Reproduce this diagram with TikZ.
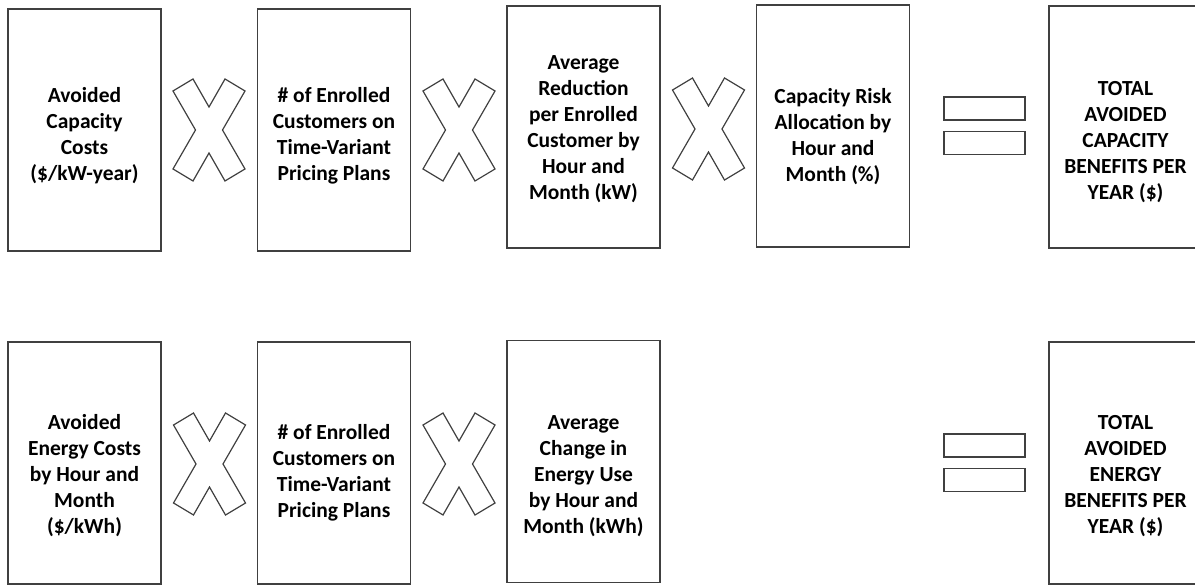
\documentclass[tikz,border=0pt]{standalone}
\usepackage{fontspec}
\setmainfont{Carlito}

\tikzset{
  factor/.style={draw=black!75, line width=1.2pt, minimum width=153pt, minimum height=242pt, inner sep=0pt},
  factext/.style={align=center, inner sep=0pt, font=\bfseries\fontsize{21.5}{26}\selectfont},
  eqbar/.style={draw=black!75, line width=1.2pt, minimum width=81pt, minimum height=23pt, inner sep=0pt},
  times/.style={draw=black!75, line width=1.2pt, line join=miter}
}

\begin{document}
\begin{tikzpicture}[x=1pt,y=-1pt]
  \useasboundingbox (0,0) rectangle (1195,585);
  % capacity row
  \node[factor] (capcost) at (84.5,130) {};
  \node[factor] (capcust) at (334,130) {};
  \node[factor] (capred) at (583.5,127) {};
  \node[factor] (caprisk) at (833,126) {};
  \node[factor] (captotal) at (1125.5,127) {};
  \node[factext,yshift=-6pt] (capcostlbl) at (capcost) {Avoided\\Capacity\\Costs\\(\$/kW-year)};
  \node[factext,yshift=-6pt] (capcustlbl) at (capcust) {\# of Enrolled\\Customers on\\Time-Variant\\Pricing Plans};
  \node[factext,yshift=-2pt] (capredlbl) at (capred) {Average\\Reduction\\per Enrolled\\Customer by\\Hour and\\Month (kW)};
  \node[factext,yshift=-11pt] (caprisklbl) at (caprisk) {Capacity Risk\\Allocation by\\Hour and\\Month (\%)};
  \node[factext,yshift=-15pt] (captotallbl) at (captotal) {TOTAL\\AVOIDED\\CAPACITY\\BENEFITS PER\\YEAR (\$)};
  \node[eqbar] (capeqtop) at (984.5,108.5) {};
  \node[eqbar] (capeqbot) at (984.5,143) {};
  % energy row
  \node[factor] (encost) at (84.5,463) {};
  \node[factor] (encust) at (334,463) {};
  \node[factor] (enchange) at (583.5,461.5) {};
  \node[factor] (entotal) at (1125.5,463) {};
  \node[factext,yshift=-13pt] (encostlbl) at (encost) {Avoided\\Energy Costs\\by Hour and\\Month\\(\$/kWh)};
  \node[factext,yshift=-10pt] (encustlbl) at (encust) {\# of Enrolled\\Customers on\\Time-Variant\\Pricing Plans};
  \node[factext,yshift=-14.5pt] (enchangelbl) at (enchange) {Average\\Change in\\Energy Use\\by Hour and\\Month (kWh)};
  \node[factext,yshift=-13pt] (entotallbl) at (entotal) {TOTAL\\AVOIDED\\ENERGY\\BENEFITS PER\\YEAR (\$)};
  \node[eqbar] (eneqtop) at (984.5,445.5) {};
  \node[eqbar] (eneqbot) at (984.5,480) {};
  % multiplication signs
  \foreach \cx/\cy in {209/130, 459/130, 708.5/129, 209.5/464, 459/464}
    \draw[times,shift={(\cx,\cy)}] (-36,-39) -- (-16,-51) -- (0,-23) -- (16,-51) -- (36,-39) -- (13.5,0)
      -- (36,39) -- (16,51) -- (0,23) -- (-16,51) -- (-36,39) -- (-13.5,0) -- cycle;
\end{tikzpicture}
\end{document}
